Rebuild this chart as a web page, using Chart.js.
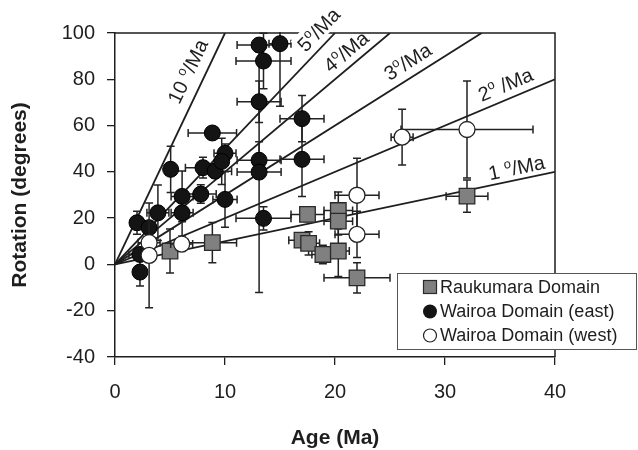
<!DOCTYPE html>
<html><head><meta charset="utf-8">
<script src="https://cdn.jsdelivr.net/npm/chart.js@4/dist/chart.umd.min.js"></script>
<style>html,body{margin:0;padding:0;background:#fff;}</style>
</head><body>
<canvas id="c" width="638" height="450"></canvas>
<script>
// ---- data ----
const rauAge    = [5.0, 8.85, 17.5, 20.3, 20.3, 17.0, 17.6, 18.9, 20.3, 22.0, 32.0];
const rauRot    = [5.8, 9.4, 21.6, 23.3, 18.7, 10.5, 9.1, 4.3, 5.8, -5.8, 29.5];
const rauAgeErr = [0, 2.2, 1.5, 1.3, 1.3, 1.2, 1.0, 1.0, 1.0, 3.0, 1.9];
const rauRotErr = [9.5, 8.7, 3, 8, 6, 3, 5, 4, 11, 6.5, 7];

const eastAge    = [13.1, 15.0, 13.5, 13.1, 17.0, 8.85, 17.0, 13.1, 13.1, 5.06, 8.0, 9.1, 10.0, 9.7, 6.1, 7.8, 10.0, 6.1, 3.9, 2.0, 3.1, 13.5, 2.27, 2.27];
const eastRot    = [94.8, 95.4, 87.9, 70.3, 63.0, 56.8, 45.4, 45.0, 39.9, 41.1, 41.8, 40.3, 48.0, 44.5, 29.4, 30.4, 28.1, 22.3, 22.3, 18.0, 15.9, 19.9, 4.3, -3.3];
const eastAgeErr = [2, 1, 2.5, 2, 2, 2.2, 2, 2, 2, 0, 1.6, 1.5, 1, 0.5, 1, 1.4, 1.1, 1, 1, 0.5, 0, 2.5, 1, 0];
const eastRotErr = [0, 27, 12, 9, 10, 0, 16, 8, 52, 10, 4.5, 3, 4, 10, 11, 4, 12, 10, 12, 5, 0, 5, 0, 6];

const westAge    = [3.1, 3.1, 6.06, 22.0, 22.0, 26.1, 32.0];
const westRot    = [9.4, 3.9, 8.8, 29.9, 13.0, 55.0, 58.3];
const westAgeErr = [1, 0, 1, 2, 2, 1, 6];
const westRotErr = [0, 22.6, 0, 16, 10, 12, 21];

// rotation-rate reference lines (degrees per Ma) and their end points
const rates      = [10, 5, 4, 3, 2, 1];
const rateEndAge = [10, 20, 25, 33.333, 40, 40];
const rateEndRot = [100, 100, 100, 100, 80, 40];
// label anchor (data coords)
const rateLabelAge = [6.6, 18.5, 21.0, 26.6, 35.5, 36.5];
const rateLabelRot = [83.4, 101.5, 92.0, 87.7, 77.8, 41.9];
const rateLabelPre = ['10 ', '5', '4', '3', '2', '1 '];
const rateLabelPost = ['/Ma', '/Ma', '/Ma', '/Ma', ' /Ma', '/Ma'];
const rateLabelMask = [false, true, false, false, false, false];

const seriesNames = ['Raukumara Domain', 'Wairoa Domain (east)', 'Wairoa Domain (west)'];
const xTicks = [0, 10, 20, 30, 40];
const yTicks = [-40, -20, 0, 20, 40, 60, 80, 100];

const FF = '"Liberation Sans", Arial, Helvetica, sans-serif';
const INK = '#1e1e1e';

function pts(xs, ys){ return xs.map((x,i)=>({x:x, y:ys[i]})); }

const datasets = [];
rates.forEach((r,i)=>{
  datasets.push({
    label: r + ' deg/Ma', data: [{x:0,y:0},{x:rateEndAge[i], y:rateEndRot[i]}],
    showLine: true, borderColor: INK, borderWidth: 1.8, pointRadius: 0, order: 10, isRate: true
  });
});
datasets.push({label: seriesNames[0], data: pts(rauAge, rauRot), xErr: rauAgeErr, yErr: rauRotErr,
  pointStyle: 'rect', pointRadius: 11, backgroundColor: '#808080', borderColor: '#2a2a2a', borderWidth: 1.3, order: 3});
datasets.push({label: seriesNames[1], data: pts(eastAge, eastRot), xErr: eastAgeErr, yErr: eastRotErr,
  pointStyle: 'circle', pointRadius: 8, backgroundColor: '#141414', borderColor: '#000', borderWidth: 1, order: 2});
datasets.push({label: seriesNames[2], data: pts(westAge, westRot), xErr: westAgeErr, yErr: westRotErr,
  pointStyle: 'circle', pointRadius: 8, backgroundColor: '#ffffff', borderColor: '#222', borderWidth: 1.3, order: 1});

const framePlugin = {
  id: 'frame',
  beforeDatasetsDraw(chart){
    const {ctx, chartArea: a} = chart;
    ctx.save(); ctx.strokeStyle = INK; ctx.lineWidth = 1.5;
    ctx.beginPath(); ctx.moveTo(a.left, a.top); ctx.lineTo(a.right, a.top); ctx.lineTo(a.right, a.bottom); ctx.stroke();
    ctx.restore();
  }
};

const errPlugin = {
  id: 'errBars',
  beforeDatasetDraw(chart, args){
    const ds = chart.data.datasets[args.index];
    if (!ds.xErr) return;
    const xs = chart.scales.x, ys = chart.scales.y, ctx = chart.ctx, a = chart.chartArea;
    ctx.save();
    ctx.beginPath(); ctx.rect(a.left, a.top - 1, a.right - a.left, a.bottom - a.top + 1); ctx.clip();
    ctx.strokeStyle = '#222'; ctx.lineWidth = 1.5;
    const cap = 4;
    ds.data.forEach((p,i)=>{
      const px = xs.getPixelForValue(p.x), py = ys.getPixelForValue(p.y);
      const ex = ds.xErr[i], ey = ds.yErr[i];
      ctx.beginPath();
      if (ex > 0){
        const l = xs.getPixelForValue(p.x - ex), r = xs.getPixelForValue(p.x + ex);
        ctx.moveTo(l, py); ctx.lineTo(r, py);
        ctx.moveTo(l, py - cap); ctx.lineTo(l, py + cap);
        ctx.moveTo(r, py - cap); ctx.lineTo(r, py + cap);
      }
      if (ey > 0){
        const t = ys.getPixelForValue(p.y + ey), b = ys.getPixelForValue(p.y - ey);
        ctx.moveTo(px, t); ctx.lineTo(px, b);
        ctx.moveTo(px - cap, t); ctx.lineTo(px + cap, t);
        ctx.moveTo(px - cap, b); ctx.lineTo(px + cap, b);
      }
      ctx.stroke();
    });
    ctx.restore();
  }
};

const rateLabelPlugin = {
  id: 'rateLabels',
  afterDatasetsDraw(chart){
    const xs = chart.scales.x, ys = chart.scales.y, ctx = chart.ctx;
    rates.forEach((r,i)=>{
      const x0 = xs.getPixelForValue(0), y0 = ys.getPixelForValue(0);
      const x1 = xs.getPixelForValue(rateEndAge[i]), y1 = ys.getPixelForValue(rateEndRot[i]);
      const ang = Math.atan2(y1 - y0, x1 - x0);
      const cx = xs.getPixelForValue(rateLabelAge[i]), cy = ys.getPixelForValue(rateLabelRot[i]);
      const big = '20px ' + FF, small = '13px ' + FF;
      ctx.save();
      ctx.font = big; const w1 = ctx.measureText(rateLabelPre[i]).width, w3 = ctx.measureText(rateLabelPost[i]).width;
      ctx.font = small; const w2 = ctx.measureText('o').width;
      const W = w1 + w2 + w3;
      ctx.translate(cx, cy); ctx.rotate(ang);
      if (rateLabelMask[i]){ ctx.fillStyle = '#fff'; ctx.fillRect(-W/2 - 2, -12, W + 4, 22); }
      ctx.fillStyle = INK; ctx.textBaseline = 'alphabetic'; ctx.textAlign = 'left';
      let x = -W/2; const base = 7;
      ctx.font = big; ctx.fillText(rateLabelPre[i], x, base); x += w1;
      ctx.font = small; ctx.fillText('o', x, base - 8); x += w2;
      ctx.font = big; ctx.fillText(rateLabelPost[i], x, base);
      ctx.restore();
    });
  }
};

const legendPlugin = {
  id: 'boxLegend',
  afterDraw(chart){
    const ctx = chart.ctx;
    const bx = 397, by = 273, bw = 240, bh = 77;
    ctx.save();
    ctx.fillStyle = '#fff'; ctx.fillRect(bx, by, bw, bh);
    ctx.strokeStyle = '#555'; ctx.lineWidth = 1; ctx.strokeRect(bx + 0.5, by + 0.5, bw - 1, bh - 1);
    const rows = [287, 311.5, 335.5];
    const mx = 430;
    // square
    ctx.fillStyle = '#808080'; ctx.strokeStyle = '#2a2a2a'; ctx.lineWidth = 1.2;
    ctx.fillRect(mx - 6.5, rows[0] - 6.5, 13, 13); ctx.strokeRect(mx - 6.5, rows[0] - 6.5, 13, 13);
    ctx.beginPath(); ctx.arc(mx, rows[1], 7, 0, Math.PI*2); ctx.fillStyle = '#141414'; ctx.fill();
    ctx.beginPath(); ctx.arc(mx, rows[2], 6.5, 0, Math.PI*2); ctx.fillStyle = '#fff'; ctx.fill(); ctx.strokeStyle = '#222'; ctx.stroke();
    ctx.fillStyle = INK; ctx.font = '18px ' + FF; ctx.textBaseline = 'middle'; ctx.textAlign = 'left';
    seriesNames.forEach((n,i)=> ctx.fillText(n, 440, rows[i] + 1));
    ctx.restore();
  }
};

new Chart(document.getElementById('c'), {
  type: 'scatter',
  data: { datasets },
  options: {
    responsive: false, animation: false, devicePixelRatio: 1,
    layout: { padding: { top: 33, right: 83, left: 0, bottom: 0 } },
    plugins: { legend: { display: false }, tooltip: { enabled: false } },
    scales: {
      x: {
        type: 'linear', min: 0, max: 40,
        afterFit(s){ s.height = 93; },
        afterBuildTicks(s){ s.ticks = xTicks.map(v=>({value:v})); },
        ticks: { color: INK, font: { size: 20, family: FF }, padding: 15, maxRotation: 0 },
        grid: { drawOnChartArea: false, drawTicks: true, tickLength: 8, color: INK, lineWidth: 1.3 },
        border: { display: true, color: INK, width: 1.5 },
        title: { display: true, text: 'Age (Ma)', color: INK, font: { size: 21, weight: 'bold', family: FF, lineHeight: 1 }, padding: { top: 0, bottom: 1 } }
      },
      y: {
        type: 'linear', min: -40, max: 100,
        afterFit(s){ s.width = 115; },
        afterBuildTicks(s){ s.ticks = yTicks.map(v=>({value:v})); },
        ticks: { color: INK, font: { size: 20, family: FF }, padding: 12 },
        grid: { drawOnChartArea: false, drawTicks: true, tickLength: 8, color: INK, lineWidth: 1.3 },
        border: { display: true, color: INK, width: 1.5 },
        title: { display: true, text: 'Rotation (degrees)', color: INK, font: { size: 21, weight: 'bold', family: FF, lineHeight: 1 }, padding: { top: 10, bottom: 0 } }
      }
    }
  },
  plugins: [framePlugin, errPlugin, rateLabelPlugin, legendPlugin]
});
</script>
</body></html>
